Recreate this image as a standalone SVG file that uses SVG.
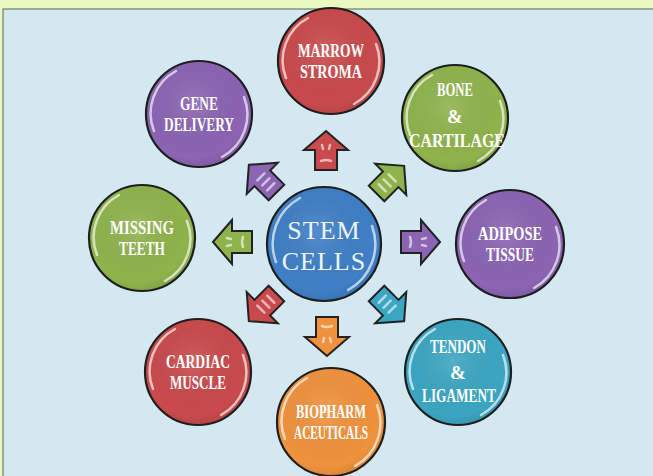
<svg xmlns="http://www.w3.org/2000/svg" width="653" height="476" viewBox="0 0 653 476">
<defs>
<radialGradient id="shade" cx="0.45" cy="0.4" r="0.65">
<stop offset="0" stop-color="#ffffff" stop-opacity="0.12"/>
<stop offset="0.8" stop-color="#000000" stop-opacity="0"/>
<stop offset="1" stop-color="#000000" stop-opacity="0.12"/>
</radialGradient>
<path id="arr" d="M0,-20 L22,-1 L11,-1 L11,19 L-11,19 L-11,-1 L-22,-1 Z"/>
</defs>
<style>
.bg{fill:#d4e8f1}
.ball{stroke:#1e1e1e;stroke-width:2.2}
.gl{fill:url(#shade)}
.hl{fill:none;stroke:#ffffff;stroke-opacity:0.65;stroke-width:2.5;stroke-linecap:round}
.lbl{font-family:'Liberation Serif','DejaVu Serif',serif;font-weight:bold;font-size:19px;fill:#ffffff;text-anchor:middle}
.stem{font-family:'Liberation Serif','DejaVu Serif',serif;font-size:26px;fill:#eef3f8;text-anchor:middle;letter-spacing:1px}
.arw{stroke:#222;stroke-width:2;stroke-linejoin:miter}
.mk{fill:none;stroke:#ffffff;stroke-opacity:0.6;stroke-width:2.5;stroke-linecap:round}
.red{fill:#c94a4c}.pur{fill:#8b64b3}.grn{fill:#8fb34c}.blu{fill:#3f7fc6}.tea{fill:#3ba6c2}.org{fill:#f0923d}
</style>
<rect x="0" y="0" width="653" height="476" fill="#eaf8c2"/>
<rect x="3" y="9" width="652" height="470" class="bg" stroke="#6f7d66" stroke-width="1.2"/>

<g id="connectors">
<g transform="translate(326,151)"><use href="#arr" class="arw red"/><path class="mk" d="M-4,-6 L-3,-2 M4,-6 L3,-2 M-5,10 Q0,8 5,10"/></g>
<g transform="translate(263,179) rotate(-45)"><use href="#arr" class="arw pur"/><path class="mk" d="M-5,-3 L5,-3 M-5,4 L5,4 M-5,11 L5,11"/></g>
<g transform="translate(390,180) rotate(45)"><use href="#arr" class="arw grn"/><path class="mk" d="M-5,-3 L5,-3 M-5,4 L5,4 M-5,11 L5,11"/></g>
<g transform="translate(233,242) rotate(-90)"><use href="#arr" class="arw grn"/><path class="mk" d="M-4,-6 L-3,-2 M4,-6 L3,-2 M-5,10 Q0,8 5,10"/></g>
<g transform="translate(420,242) rotate(90)"><use href="#arr" class="arw pur"/><path class="mk" d="M-4,-6 L-3,-2 M4,-6 L3,-2 M-5,10 Q0,8 5,10"/></g>
<g transform="translate(263,307) rotate(-135)"><use href="#arr" class="arw red"/><path class="mk" d="M-5,-3 L5,-3 M-5,4 L5,4 M-5,11 L5,11"/></g>
<g transform="translate(327,336) rotate(180)"><use href="#arr" class="arw org"/><path class="mk" d="M-4,-6 L-3,-2 M4,-6 L3,-2 M-5,10 Q0,8 5,10"/></g>
<g transform="translate(390,307) rotate(135)"><use href="#arr" class="arw tea"/><path class="mk" d="M-5,-3 L5,-3 M-5,4 L5,4 M-5,11 L5,11"/></g>
</g>

<g id="stem">
<circle cx="324" cy="244" r="57" class="ball blu"/><circle cx="324" cy="244" r="56" class="gl"/>
<path class="hl" d="M276,262 A52,52 0 0 1 300,198"/><path class="hl" d="M372,226 A52,52 0 0 1 348,290"/>
<text x="324" y="239" class="stem">STEM</text><text x="324" y="270" class="stem">CELLS</text>
</g>

<g id="marrow">
<circle cx="331" cy="61" r="53" class="ball red"/><circle cx="331" cy="61" r="52" class="gl"/>
<path class="hl" d="M286,78 A48,48 0 0 1 308,18"/><path class="hl" d="M376,44 A48,48 0 0 1 354,104"/>
<text x="331" y="57" class="lbl" textLength="66" lengthAdjust="spacingAndGlyphs">MARROW</text><text x="331" y="78" class="lbl" textLength="62" lengthAdjust="spacingAndGlyphs">STROMA</text>
</g>

<g id="gene">
<circle cx="199" cy="114" r="53" class="ball pur"/><circle cx="199" cy="114" r="52" class="gl"/>
<path class="hl" d="M154,131 A48,48 0 0 1 176,71"/><path class="hl" d="M244,97 A48,48 0 0 1 222,157"/>
<text x="199" y="110" class="lbl" textLength="38" lengthAdjust="spacingAndGlyphs">GENE</text><text x="199" y="131" class="lbl" textLength="70" lengthAdjust="spacingAndGlyphs">DELIVERY</text>
</g>

<g id="bone">
<circle cx="455" cy="118" r="53" class="ball grn"/><circle cx="455" cy="118" r="52" class="gl"/>
<path class="hl" d="M410,135 A48,48 0 0 1 432,75"/><path class="hl" d="M500,101 A48,48 0 0 1 478,161"/>
<text x="455" y="96" class="lbl" textLength="36" lengthAdjust="spacingAndGlyphs">BONE</text><text x="455" y="123" class="lbl" font-size="16">&amp;</text><text x="457" y="147" class="lbl" textLength="96" lengthAdjust="spacingAndGlyphs">CARTILAGE</text>
</g>

<g id="missing">
<circle cx="142" cy="238" r="53" class="ball grn"/><circle cx="142" cy="238" r="52" class="gl"/>
<path class="hl" d="M97,255 A48,48 0 0 1 119,195"/><path class="hl" d="M187,221 A48,48 0 0 1 165,281"/>
<text x="142" y="234" class="lbl" textLength="64" lengthAdjust="spacingAndGlyphs">MISSING</text><text x="142" y="255" class="lbl" textLength="46" lengthAdjust="spacingAndGlyphs">TEETH</text>
</g>

<g id="adipose">
<circle cx="510" cy="244" r="54" class="ball pur"/><circle cx="510" cy="244" r="53" class="gl"/>
<path class="hl" d="M464,261 A49,49 0 0 1 486,200"/><path class="hl" d="M556,227 A49,49 0 0 1 534,288"/>
<text x="510" y="240" class="lbl" textLength="64" lengthAdjust="spacingAndGlyphs">ADIPOSE</text><text x="510" y="261" class="lbl" textLength="48" lengthAdjust="spacingAndGlyphs">TISSUE</text>
</g>

<g id="cardiac">
<circle cx="198" cy="372" r="53" class="ball red"/><circle cx="198" cy="372" r="52" class="gl"/>
<path class="hl" d="M153,389 A48,48 0 0 1 175,329"/><path class="hl" d="M243,355 A48,48 0 0 1 221,415"/>
<text x="198" y="368" class="lbl" textLength="64" lengthAdjust="spacingAndGlyphs">CARDIAC</text><text x="198" y="389" class="lbl" textLength="56" lengthAdjust="spacingAndGlyphs">MUSCLE</text>
</g>

<g id="biopharm">
<circle cx="331" cy="422" r="54" class="ball org"/><circle cx="331" cy="422" r="53" class="gl"/>
<path class="hl" d="M285,439 A49,49 0 0 1 307,378"/><path class="hl" d="M377,405 A49,49 0 0 1 355,466"/>
<text x="331" y="418" class="lbl" textLength="70" lengthAdjust="spacingAndGlyphs">BIOPHARM</text><text x="331" y="439" class="lbl" textLength="74" lengthAdjust="spacingAndGlyphs">ACEUTICALS</text>
</g>

<g id="tendon">
<circle cx="458" cy="372" r="53" class="ball tea"/><circle cx="458" cy="372" r="52" class="gl"/>
<path class="hl" d="M413,389 A48,48 0 0 1 435,329"/><path class="hl" d="M503,355 A48,48 0 0 1 481,415"/>
<text x="458" y="353" class="lbl" textLength="56" lengthAdjust="spacingAndGlyphs">TENDON</text><text x="458" y="379" class="lbl" font-size="16">&amp;</text><text x="459" y="402" class="lbl" textLength="74" lengthAdjust="spacingAndGlyphs">LIGAMENT</text>
</g>
</svg>
